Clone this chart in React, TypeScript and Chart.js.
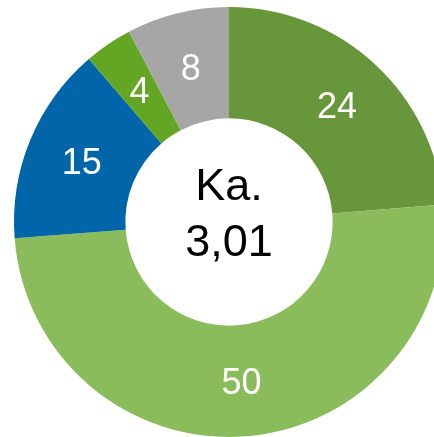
import React, { useEffect, useRef } from "react";
import { Chart, registerables } from "chart.js";

Chart.register(...registerables);

const categories = ["A", "B", "C", "D", "E"];
const values = [23.7, 50.1, 14.9, 3.6, 7.7];
const valueLabels = ["24", "50", "15", "4", "8"];
const colors = ["#67963B", "#8ABC5C", "#0066A9", "#62A623", "#A6A6A6"];
const centerLines = ["Ka.", "3,01"];

const labelPlugin = {
  id: "labelPlugin",
  afterDatasetsDraw(chart: any) {
    const ctx = chart.ctx;
    const meta = chart.getDatasetMeta(0);
    ctx.save();
    ctx.fillStyle = "#ffffff";
    ctx.font = "36px 'Liberation Sans', Arial, sans-serif";
    ctx.textAlign = "center";
    ctx.textBaseline = "middle";
    meta.data.forEach((arc: any, i: number) => {
      const p = arc.tooltipPosition();
      ctx.fillText(valueLabels[i], p.x, p.y + 3);
    });
    const first = meta.data[0];
    const cx = first.x;
    const cy = first.y;
    ctx.fillStyle = "#000000";
    ctx.font = "45px 'Liberation Sans', Arial, sans-serif";
    ctx.fillText(centerLines[0], cx, cy - 34);
    ctx.fillText(centerLines[1], cx, cy + 22);
    ctx.restore();
  },
};

export default function App() {
  const ref = useRef<HTMLCanvasElement | null>(null);
  useEffect(() => {
    if (!ref.current) return;
    const chart = new Chart(ref.current, {
      type: "doughnut",
      data: {
        labels: categories,
        datasets: [
          {
            data: values,
            backgroundColor: colors,
            borderWidth: 0,
          },
        ],
      },
      options: {
        animation: false,
        responsive: false,
        radius: 215,
        cutout: 107,
        plugins: {
          legend: { display: false },
          tooltip: { enabled: false },
        },
      },
      plugins: [labelPlugin],
    });
    return () => chart.destroy();
  }, []);
  return (
    <div
      style={{
        position: "fixed",
        left: 0,
        top: 0,
        width: 434,
        height: 437,
        overflow: "hidden",
        background: "#ffffff",
      }}
    >
      <canvas
        ref={ref}
        width={458}
        height={444}
        style={{ position: "absolute", left: 0, top: 0, width: 458, height: 444 }}
      />
    </div>
  );
}
